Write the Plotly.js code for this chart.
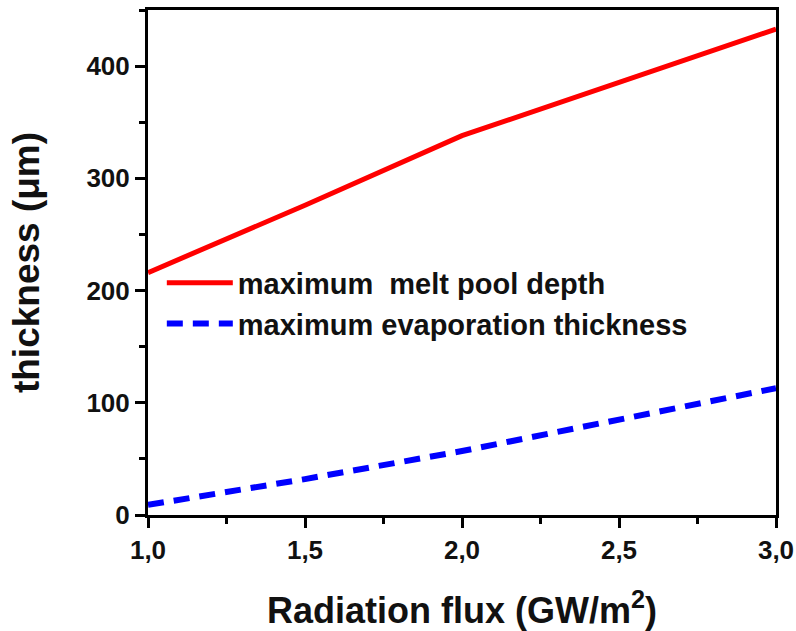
<!DOCTYPE html>
<html>
<head>
<meta charset="utf-8">
<script src="https://cdn.plot.ly/plotly-3.0.1.min.js"></script>
<style>html,body{margin:0;padding:0;background:#fff;}#chart{width:796px;height:631px;}</style>
</head>
<body>
<div id="chart"></div>
<script>
const flux = [1.0, 1.5, 2.0, 2.5, 3.0];
const meltDepth = [216, 276, 338, 386, 433];
const evapThickness = [9, 32, 57, 85, 113];
const xTickVals = [1.0, 1.5, 2.0, 2.5, 3.0];
const yTickVals = [0, 100, 200, 300, 400];
const seriesNames = ["maximum\u00a0\u00a0melt pool depth", "maximum evaporation thickness"];

const FONT = "Arial, 'Liberation Sans', Helvetica, sans-serif";

const traces = [
  {x: flux, y: meltDepth, name: seriesNames[0], mode: 'lines',
   line: {color: '#ff0000', width: 5}},
  {x: flux, y: evapThickness, name: seriesNames[1], mode: 'lines',
   line: {color: '#0000ff', width: 6, dash: '16px,10px'}}
];

const axisCommon = {
  showline: true, linecolor: '#000', linewidth: 3, mirror: true,
  ticks: 'outside', ticklen: 10, tickwidth: 3, tickcolor: '#000',
  showgrid: false, zeroline: false,
  tickfont: {family: FONT, size: 26, color: '#111', weight: 'bold'}
};

const layout = {
  width: 796, height: 631,
  margin: {l: 148, r: 20, t: 10, b: 116},
  paper_bgcolor: '#fff', plot_bgcolor: '#fff',
  separators: ', ',
  showlegend: true,
  font: {family: FONT, color: '#111'},
  legend: {x: 0.022, y: 0.51, xanchor: 'left', yanchor: 'top',
           bgcolor: 'rgba(0,0,0,0)', borderwidth: 0, itemwidth: 66,
           tracegroupgap: 0,
           font: {family: FONT, size: 29, color: '#111', weight: 'bold'}},
  xaxis: Object.assign({}, axisCommon, {
    range: [1.0, 3.0], tickvals: xTickVals, tickformat: '.1f',
    minor: {dtick: 0.25, ticks: 'outside', ticklen: 6, tickwidth: 3, tickcolor: '#000'},
    title: {text: 'Radiation flux (GW/m<sup>2</sup>)', standoff: 36,
            font: {family: FONT, size: 36, color: '#111', weight: 'bold'}}
  }),
  yaxis: Object.assign({}, axisCommon, {
    range: [0, 450], tickvals: yTickVals,
    minor: {dtick: 50, ticks: 'outside', ticklen: 6, tickwidth: 3, tickcolor: '#000'},
    title: {text: 'thickness (\u03bcm)', standoff: 36,
            font: {family: FONT, size: 37, color: '#111', weight: 'bold'}}
  })
};

Plotly.newPlot('chart', traces, layout, {displayModeBar: false, staticPlot: true});
</script>
</body>
</html>
